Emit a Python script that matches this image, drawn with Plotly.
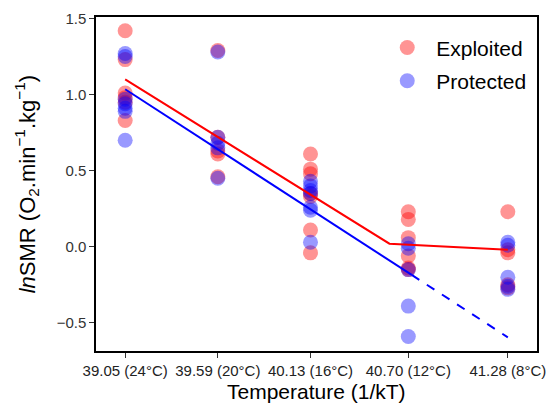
import plotly.graph_objects as go

# temperature as 1/kT, with the matching water temperature for tick labels
temps = [39.05, 39.59, 40.13, 40.70, 41.28]
temp_labels = ["39.05 (24°C)", "39.59 (20°C)", "40.13 (16°C)", "40.70 (12°C)", "41.28 (8°C)"]

# lnSMR per fish
expl_x = [39.05]*6 + [39.59]*5 + [40.13]*7 + [40.70]*6 + [41.28]*5
expl_y = [1.42, 1.23, 1.01, 0.98, 0.95, 0.83,
          1.29, 0.72, 0.61, 0.63, 0.46,
          0.61, 0.51, 0.48, 0.35, 0.33, 0.11, -0.04,
          0.23, 0.18, 0.06, -0.06, -0.14, -0.15,
          0.23, -0.02, -0.04, -0.25, -0.27]

prot_x = [39.05]*7 + [39.59]*5 + [40.13]*7 + [40.70]*5 + [41.28]*5
prot_y = [1.27, 1.25, 0.97, 0.94, 0.91, 0.89, 0.70,
          1.28, 0.72, 0.68, 0.65, 0.45,
          0.43, 0.40, 0.37, 0.35, 0.26, 0.24, 0.03,
          0.02, -0.01, -0.15, -0.39, -0.59,
          0.03, 0.01, -0.20, -0.26, -0.28]

# fitted lines
expl_fit_x = [39.05, 40.59, 41.28]
expl_fit_y = [1.10, 0.02, -0.02]
prot_fit_x = [39.05, 40.72]
prot_fit_y = [1.035, -0.185]
prot_ext_x = [40.72, 41.28]
prot_ext_y = [-0.185, -0.595]

fig = go.Figure()
fig.add_trace(go.Scatter(x=expl_x, y=expl_y, mode="markers", name="Exploited", legendgroup="a",
                         marker=dict(size=15, color="rgba(255,0,0,0.42)", line=dict(width=0))))
fig.add_trace(go.Scatter(x=prot_x, y=prot_y, mode="markers", name="Protected", legendgroup="b",
                         marker=dict(size=15, color="rgba(0,0,255,0.4)", line=dict(width=0))))
fig.add_trace(go.Scatter(x=expl_fit_x, y=expl_fit_y, mode="lines", showlegend=False,
                         line=dict(color="#ff0000", width=2)))
fig.add_trace(go.Scatter(x=prot_fit_x, y=prot_fit_y, mode="lines", showlegend=False,
                         line=dict(color="#0000ff", width=2)))
fig.add_trace(go.Scatter(x=prot_ext_x, y=prot_ext_y, mode="lines", showlegend=False,
                         line=dict(color="#0000ff", width=2, dash="dash")))

fig.update_layout(
    width=556, height=405,
    margin=dict(l=96, r=10, t=14, b=54),
    plot_bgcolor="white", paper_bgcolor="white",
    font=dict(family="Liberation Sans, Arial", color="#1a1a1a"),
    legend=dict(x=0.64, y=0.969, xanchor="left", yanchor="top",
                font=dict(size=21, color="black"), bgcolor="rgba(0,0,0,0)",
                traceorder="grouped", tracegroupgap=3, itemwidth=48),
    showlegend=True,
)
fig.update_xaxes(
    range=[38.88, 41.45], tickvals=temps, ticktext=temp_labels,
    tickfont=dict(size=15, color="#222"),
    showgrid=False, zeroline=False, showline=True, linecolor="black", linewidth=1.5,
    mirror=True, ticks="outside", ticklen=5, tickwidth=1.2, tickcolor="#333",
)
fig.update_yaxes(
    range=[-0.685, 1.51], tickvals=[-0.5, 0, 0.5, 1.0, 1.5], tickformat=".1f",
    tickfont=dict(size=15, color="#333"),
    showgrid=False, zeroline=False, showline=True, linecolor="black", linewidth=1.5,
    mirror=True, ticks="outside", ticklen=5, tickwidth=1.2, tickcolor="#333",
)

# axis titles as annotations for exact placement
fig.add_annotation(text="Temperature (1/kT)", xref="paper", yref="paper",
                   x=0.5, y=-0.122, xanchor="center", yanchor="middle", showarrow=False,
                   font=dict(size=21, color="black"))
fig.add_annotation(text="<i>ln</i>SMR (O<sub>2</sub>.min<sup>−1</sup>.kg<sup>−1</sup>)",
                   xref="paper", yref="paper", x=-0.158, y=0.5, textangle=-90,
                   xanchor="center", yanchor="middle", showarrow=False,
                   font=dict(size=22, color="black"))

fig.write_html("out.html", config={"displayModeBar": False},
               post_script="document.body.style.margin='0';")
